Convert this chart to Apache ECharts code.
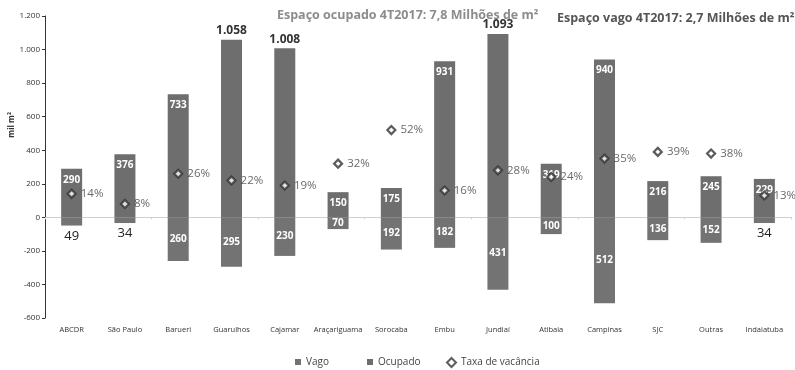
<!DOCTYPE html>
<html><head><meta charset="utf-8">
<script src="https://cdn.jsdelivr.net/npm/echarts@6/dist/echarts.min.js"></script>
<style>html,body{margin:0;padding:0;background:#fff}#c{width:795px;height:370px}</style>
</head><body><div id="c"></div>
<script>
var categories = ['ABCDR','São Paulo','Barueri','Guarulhos','Cajamar','Araçariguama','Sorocaba','Embu','Jundiaí','Atibaia','Campinas','SJC','Outras','Indaiatuba'];
var ocupado = [290,376,733,1058,1008,150,175,931,1093,319,940,216,245,229];
var vago = [49,34,260,295,230,70,192,182,431,100,512,136,152,34];
var taxaVacancia = [14,8,26,22,19,32,52,16,28,24,35,39,38,13];
var yTicks = [-600,-400,-200,0,200,400,600,800,1000,1200];

function fmt(v){ return String(Math.abs(v)).replace(/\B(?=(\d{3})+(?!\d))/g,'.'); }

var ocData = ocupado.map(function(v){
  if (v >= 1000) return {value:v, label:{position:'top', color:'#333', fontWeight:'bold', fontSize:12, distance:3}};
  return v;
});
var vgData = vago.map(function(v){
  if (v < 50) return {value:-v, label:{position:'bottom', color:'#222', fontWeight:'normal', fontSize:13, distance:4}};
  return -v;
});
var txData = taxaVacancia.map(function(v){ return v/100; });

var chart = echarts.init(document.getElementById('c'));
chart.setOption({
  animation:false,
  textStyle:{fontFamily:'Open Sans'},
  title:[
    {text:'Espaço ocupado 4T2017: 7,8 Milhões de m²', left:272, top:4, textStyle:{fontSize:12.5, fontWeight:'bold', color:'#8c8c8c', fontFamily:'Open Sans'}},
    {text:'Espaço vago 4T2017: 2,7 Milhões de m²', left:552, top:7, textStyle:{fontSize:12.5, fontWeight:'bold', color:'#555', fontFamily:'Open Sans'}}
  ],
  legend:[
    {data:[{name:'Vago', icon:'rect'}], left:290, top:352, itemWidth:6, itemHeight:6, itemGap:5, textStyle:{fontSize:10, color:'#444'}},
    {data:[{name:'Ocupado', icon:'rect'}], left:362, top:352, itemWidth:6, itemHeight:6, itemGap:5, textStyle:{fontSize:10, color:'#444'}},
    {data:[{name:'Taxa de vacância'}], left:441, top:352, itemWidth:9, itemHeight:9, textStyle:{fontSize:10, color:'#444'}}
  ],
  grid:{left:45, right:4, top:16, bottom:52},
  xAxis:[
    {type:'category', data:categories, axisLine:{show:false, onZero:false}, axisTick:{show:false},
     axisLabel:{interval:0, fontSize:7.5, color:'#333', margin:8}},
    {type:'category', data:categories, position:'bottom', axisLine:{onZero:true, lineStyle:{color:'#cfcfcf', width:1}},
     axisTick:{show:true, length:2, lineStyle:{color:'#cfcfcf'}}, axisLabel:{show:false}}
  ],
  yAxis:[
    {type:'value', min:-600, max:1200, interval:200, splitLine:{show:false},
     axisLine:{show:true, lineStyle:{color:'#333'}}, axisTick:{show:true, length:3, lineStyle:{color:'#333'}},
     axisLabel:{fontSize:8, color:'#333', margin:5, formatter:function(v){return (v<0?'-':'')+fmt(v);}}},
    {type:'value', min:-0.6, max:1.2, show:false, splitLine:{show:false}}
  ],
  graphic:[
    {type:'text', left:8, top:112, rotation:Math.PI/2, style:{text:'mil m²', fontSize:8, fontWeight:'bold', fill:'#333', fontFamily:'Open Sans'}}
  ],
  series:[
    {name:'Ocupado', type:'bar', stack:'a', data:ocData, barWidth:21, itemStyle:{color:'#6e6e6e'},
     label:{show:true, position:'insideTop', distance:6, color:'#fff', fontSize:10, fontWeight:'bold', formatter:function(p){return fmt(p.value);}}},
    {name:'Vago', type:'bar', stack:'a', data:vgData, barWidth:21, itemStyle:{color:'#737373'},
     label:{show:true, position:'inside', color:'#fff', fontSize:10, fontWeight:'bold', formatter:function(p){return fmt(p.value);}}},
    {name:'Taxa de vacância', type:'scatter', yAxisIndex:1, data:txData, symbol:'diamond', symbolSize:8,
     itemStyle:{color:'#fff', borderColor:'#333', borderWidth:2.2}, z:5,
     label:{show:true, position:'right', distance:4, color:'#444', fontSize:11.5, formatter:function(p){return Math.round(p.value*100)+'%';}}}
  ]
});
</script></body></html>
